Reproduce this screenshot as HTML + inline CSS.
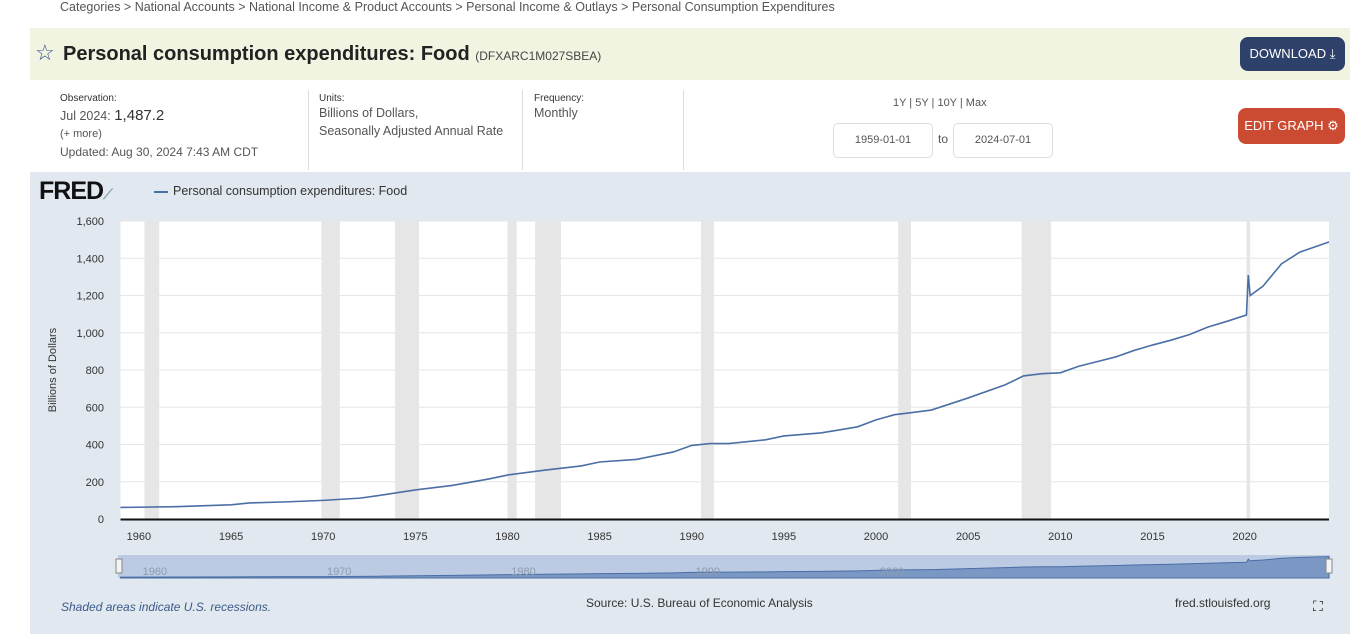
<!DOCTYPE html>
<html><head><meta charset="utf-8"><style>
body{margin:0;width:1364px;height:644px;background:#fff;font-family:"Liberation Sans",sans-serif;position:relative;overflow:hidden;color:#333}
.abs{position:absolute}
.lbl{font-size:10px;color:#333}
.val{font-size:12.5px;color:#555;line-height:18px}
</style></head><body>
<div class="abs" style="left:60px;top:0px;font-size:12.5px;color:#555">Categories &gt; National Accounts &gt; National Income &amp; Product Accounts &gt; Personal Income &amp; Outlays &gt; Personal Consumption Expenditures</div>
<div class="abs" style="left:30px;top:28px;width:1320px;height:52px;background:#f1f4e1"></div>
<div class="abs" style="left:35px;top:40px;font-size:22px;color:#3a5590">☆</div>
<div class="abs" style="left:63px;top:43px;font-size:20px;font-weight:bold;color:#222">Personal consumption expenditures: Food <span style="font-size:12px;font-weight:normal;color:#444">(DFXARC1M027SBEA)</span></div>
<div class="abs" style="left:1240px;top:37px;width:105px;height:34px;background:#2e416b;border-radius:8px;color:#fff;font-size:13px;line-height:34px;text-align:center">DOWNLOAD ⤓</div>
<div class="abs lbl" style="left:60px;top:93px">Observation:</div>
<div class="abs val" style="left:60px;top:107px">Jul 2024: <span style="font-size:15px;color:#333">1,487.2</span></div>
<div class="abs" style="left:60px;top:128px;font-size:11px;color:#555">(+ more)</div>
<div class="abs val" style="left:60px;top:143px;font-size:12px">Updated: Aug 30, 2024 7:43 AM CDT</div>
<div class="abs" style="left:308px;top:90px;width:1px;height:80px;background:#ddd"></div>
<div class="abs lbl" style="left:319px;top:93px">Units:</div>
<div class="abs val" style="left:319px;top:104px">Billions of Dollars,<br>Seasonally Adjusted Annual Rate</div>
<div class="abs" style="left:522px;top:90px;width:1px;height:80px;background:#ddd"></div>
<div class="abs lbl" style="left:534px;top:93px">Frequency:</div>
<div class="abs val" style="left:534px;top:104px">Monthly</div>
<div class="abs" style="left:683px;top:90px;width:1px;height:80px;background:#ddd"></div>
<div class="abs" style="left:893px;top:97px;font-size:11px;color:#555">1Y | 5Y | 10Y | Max</div>
<div class="abs" style="left:833px;top:123px;width:98px;height:33px;border:1px solid #ddd;border-radius:5px;font-size:11px;color:#555;line-height:33px;text-align:center">1959-01-01</div>
<div class="abs" style="left:938px;top:132px;font-size:12px;color:#555">to</div>
<div class="abs" style="left:953px;top:123px;width:98px;height:33px;border:1px solid #ddd;border-radius:5px;font-size:11px;color:#555;line-height:33px;text-align:center">2024-07-01</div>
<div class="abs" style="left:1238px;top:108px;width:107px;height:36px;background:#cb4b32;border-radius:8px;color:#fff;font-size:13px;line-height:36px;text-align:center">EDIT GRAPH ⚙</div>
<div class="abs" style="left:30px;top:172px;width:1320px;height:462px;background:#e1e8ef"></div>
<div class="abs" style="left:39px;top:177px;font-size:25px;font-weight:900;color:#111;letter-spacing:-1px">FRED<span style="font-size:14px;color:#8aa">⟋</span></div>
<div class="abs" style="left:154px;top:184px;font-size:12.5px;color:#333"><span style="display:inline-block;width:14px;height:2px;background:#4a6fa5;vertical-align:middle;margin-right:5px"></span>Personal consumption expenditures: Food</div>
<svg class="abs" style="left:0;top:0" width="1364" height="644" id="chart"></svg>
<div class="abs" style="left:61px;top:600px;font-size:12px;font-style:italic;color:#3c5a8a">Shaded areas indicate U.S. recessions.</div>
<div class="abs" style="left:586px;top:596px;font-size:12px;color:#333">Source: U.S. Bureau of Economic Analysis</div>
<div class="abs" style="left:1175px;top:596px;font-size:12px;color:#333">fred.stlouisfed.org</div>
<div class="abs" style="left:1313px;top:598px;font-size:14px;color:#111">⛶</div>
<script>
const years=[1959,1962,1965,1966,1968,1970,1972,1973,1975,1977,1979,1980,1982,1984,1985,1987,1989,1990,1991,1992,1994,1995,1997,1998,1999,2000,2001,2002,2003,2005,2007,2008,2009,2010,2011,2012,2013,2014,2015,2016,2017,2018,2019,2020.1,2020.2,2020.3,2021,2022,2023,2024.58];
const values=[62,66,76,86,92,100,112,126,156,180,215,236,262,285,306,320,360,395,405,405,425,446,462,478,495,532,560,572,585,650,720,768,780,785,820,845,870,905,934,960,990,1030,1060,1095,1310,1200,1250,1370,1433,1487];
const recStart=[1960.3,1969.9,1973.9,1980.0,1981.5,1990.5,2001.2,2007.9,2020.1];
const recEnd=[1961.1,1970.9,1975.2,1980.5,1982.9,1991.2,2001.9,2009.5,2020.3];
const yTicks=[0,200,400,600,800,1000,1200,1400,1600];
const xTicks=[1960,1965,1970,1975,1980,1985,1990,1995,2000,2005,2010,2015,2020];
const navTicks=[1960,1970,1980,1990,2000];
const X0=120.5,X1=1329,Y0=519,Y1=221,T0=1959,T1=2024.58,VMAX=1600;
const xs=t=>X0+(t-T0)/(T1-T0)*(X1-X0);
const ys=v=>Y0-v/VMAX*(Y0-Y1);
const svg=document.getElementById('chart');const NS='http://www.w3.org/2000/svg';
function mk(tag,a,p){const e=document.createElementNS(NS,tag);for(const k in a)e.setAttribute(k,a[k]);(p||svg).appendChild(e);return e;}
const plot=mk('rect',{x:X0,y:Y1,width:X1-X0,height:Y0-Y1,fill:'#fff'});


recStart.forEach((s,i)=>{const r=mk('rect',{x:xs(s),y:Y1,width:xs(recEnd[i])-xs(s),height:Y0-Y1,fill:'#e6e6e6'});

});
yTicks.forEach(v=>{if(v>0){const l=mk('line',{x1:X0,x2:X1,y1:ys(v),y2:ys(v),stroke:'#e6e6e6','stroke-width':1});

}
const t=mk('text',{x:104,y:ys(v)+4,'text-anchor':'end','font-size':11,fill:'#333'});t.textContent=v.toLocaleString('en-US');

});
const yt=mk('text',{x:56,y:370,'text-anchor':'middle','font-size':11,fill:'#333',transform:'rotate(-90 56 370)'});yt.textContent='Billions of Dollars';


xTicks.forEach(y=>{const t=mk('text',{x:xs(y),y:540,'text-anchor':'middle','font-size':11,fill:'#333'});t.textContent=y;

});
const line=mk('polyline',{points:years.map((y,i)=>xs(y)+','+ys(values[i])).join(' '),fill:'none',stroke:'#4a6fa5','stroke-width':1.6});


const ax=mk('line',{x1:X0,x2:X1,y1:Y0+0.5,y2:Y0+0.5,stroke:'#111','stroke-width':2});


// navigator
const NY0=578,NY1=555;
const nv=mk('rect',{x:118,y:NY1,width:1212,height:NY0-NY1,fill:'#bccbe3'});


const nys=v=>NY0-v/VMAX*(NY0-NY1);
const na=mk('polygon',{points:xs(T0)+','+NY0+' '+years.map((y,i)=>xs(y)+','+nys(values[i])).join(' ')+' '+xs(T1)+','+NY0,fill:'#7b97c4',stroke:'#4a6fa5','stroke-width':1});


navTicks.forEach(y=>{const t=mk('text',{x:xs(y)+16,y:575,'text-anchor':'middle','font-size':11,fill:'#8d9bb0'});t.textContent=y;

});
[116,1326].forEach(x=>{const h=mk('rect',{x:x,y:559,width:6,height:14,fill:'#f4f4f4',stroke:'#888'});

});
</script>
</body></html>
